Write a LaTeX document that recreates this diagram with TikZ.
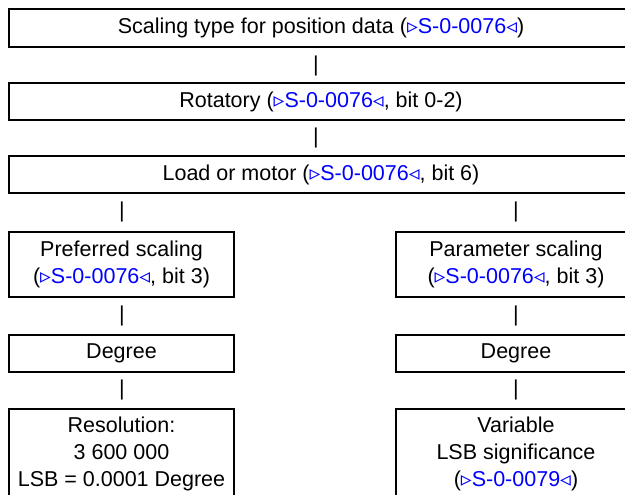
\documentclass[tikz,border=0pt]{standalone}
\usepackage{fontspec}
\setmainfont{Liberation Sans}
\newfontfamily\trifont{DejaVu Sans Bold}
\usetikzlibrary{calc}
\definecolor{refblue}{RGB}{0,0,255}
\newcommand{\param}[1]{\textcolor{refblue}{{\trifont ▹}#1{\trifont ◃}}}

\begin{document}
\begin{tikzpicture}
		[x=1pt,y=-1pt]
			\tikzstyle{every node}=[font=\fontsize{21.5}{27}\selectfont, align=center]
			\tikzstyle{box}=[draw, line width=2pt, inner sep=0pt]
		\useasboundingbox (0,0) rectangle (625,495);
		\clip (0,0) rectangle (625,495);
		%-----main chain
		 \node[box, minimum width=624pt, minimum height=38pt] (type) at (321,28) {Scaling type for position data (\param{S-0-0076})};
		 \node[box, minimum width=624pt, minimum height=37pt] (rot) at (321,101.5) {Rotatory (\param{S-0-0076}, bit 0-2)};
		 \node[box, minimum width=624pt, minimum height=37pt] (load) at (321,174.5) {Load or motor (\param{S-0-0076}, bit 6)};
		%-----left branch
		 \node[box, minimum width=225pt, minimum height=65pt] (pref) at (121.5,264.5) {Preferred scaling\\(\param{S-0-0076}, bit 3)};
		 \node[box, minimum width=225pt, minimum height=37pt] (degL) at (121.5,353.5) {Degree};
		 \node[box, minimum width=225pt, minimum height=90pt] (res) at (121.5,454) {Resolution:\\3 600 000\\LSB = 0.0001 Degree};
		%-----right branch
		 \node[box, minimum width=240pt, minimum height=65pt] (par) at (516,264.5) {Parameter scaling\\(\param{S-0-0076}, bit 3)};
		 \node[box, minimum width=240pt, minimum height=37pt] (degR) at (516,353.5) {Degree};
		 \node[box, minimum width=240pt, minimum height=90pt] (var) at (516,454) {Variable\\LSB significance\\(\param{S-0-0079})};
		 
		 \foreach \nm/\px/\py in {barA/316/66, barB/316/138, barC/122/212, barD/516/212, barE/122/316, barF/516/316, barG/122/390, barH/516/390}
		 \node (\nm) at (\px,\py) {|};
		 
		\end{tikzpicture}
\end{document}
